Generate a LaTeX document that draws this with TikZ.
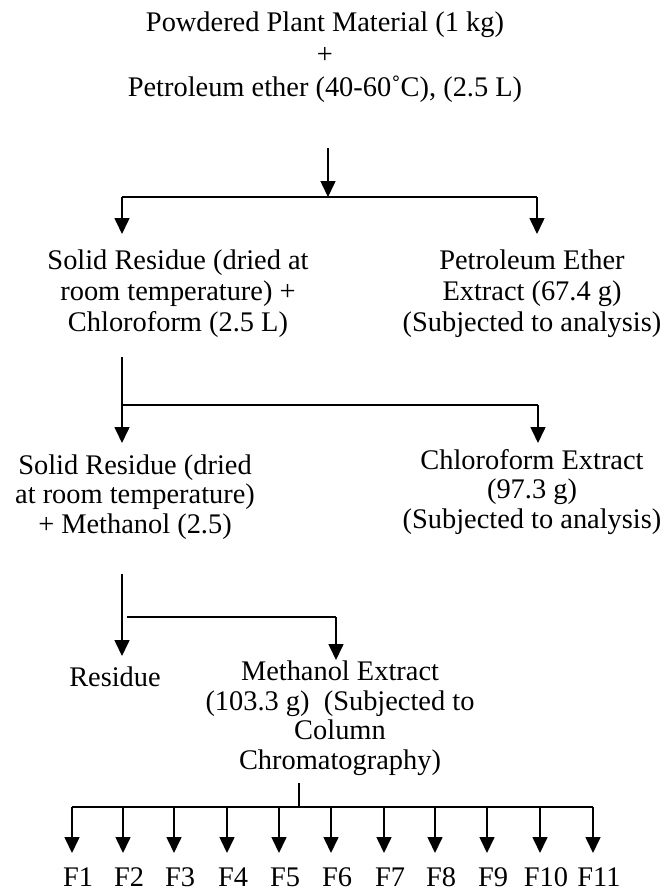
\documentclass[tikz,border=0pt]{standalone}
\usepackage{fontspec}
\setmainfont{Liberation Serif}
\usetikzlibrary{arrows.meta}
\tikzset{
  txt/.style={align=center, inner sep=0pt, font=\fontsize{28.4}{31}\selectfont},
  ln/.style={line width=1.6pt},
  arr/.style={ln, -{Triangle[width=15pt,length=16pt]}}
}
\begin{document}
\begin{tikzpicture}[x=1pt,y=-1pt]
\useasboundingbox (0,0) rectangle (662,888);
% nodes
\node[txt, font=\fontsize{28.4}{32.5}\selectfont] (top) at (325,57) {Powdered Plant Material (1 kg)\\+\\Petroleum ether (40-60˚C), (2.5 L)};
\node[txt] (l1) at (178,294) {Solid Residue (dried at\\room temperature) +\\Chloroform (2.5 L)};
\node[txt] (r1) at (532,294) {Petroleum Ether\\Extract (67.4 g)\\(Subjected to analysis)};
\node[txt, font=\fontsize{28.4}{29.5}\selectfont] (l2) at (135,497) {Solid Residue (dried\\at room temperature)\\+ Methanol (2.5)};
\node[txt, font=\fontsize{28.4}{29.5}\selectfont] (r2) at (532,492) {Chloroform Extract\\(97.3 g)\\(Subjected to analysis)};
\node[txt] (res) at (115,677) {Residue};
\node[txt, font=\fontsize{28.4}{29.5}\selectfont] (me) at (340,718) {Methanol Extract\\(103.3 g)\ \ (Subjected to\\Column\\Chromatography)};
% coordinates
\coordinate (a0) at (328,148);
\coordinate (b0) at (328,197);
\coordinate (bl) at (122,197);
\coordinate (br) at (537,197);
\coordinate (tl) at (122,234);
\coordinate (tr) at (537,234);
\coordinate (c0) at (122,357);
\coordinate (cj) at (122,405);
\coordinate (cr) at (538,405);
\coordinate (ctl) at (122,443);
\coordinate (ctr) at (538,443);
\coordinate (d0) at (122,574);
\coordinate (dtl) at (122,656);
\coordinate (dj) at (127,617);
\coordinate (dr) at (336,617);
\coordinate (dtr) at (336,660);
\coordinate (e0) at (299,783);
\coordinate (ej) at (299,807);
% connectors
\draw[arr] (a0) -- (b0);
\draw[ln] (bl) -- (br);
\draw[arr] (bl) -- (tl);
\draw[arr] (br) -- (tr);
\draw[arr] (c0) -- (ctl);
\draw[ln] (cj) -- (cr);
\draw[arr] (cr) -- (ctr);
\draw[arr] (d0) -- (dtl);
\draw[ln] (dj) -- (dr);
\draw[arr] (dr) -- (dtr);
\draw[ln] (e0) -- (ej);
\foreach \i/\x in {1/72,2/123,3/174,4/227,5/279,6/331,7/384,8/435,9/487,10/540,11/593} {
  \coordinate (f\i) at (\x,807);
  \coordinate (g\i) at (\x,853);
  \node[txt] (F\i) at (\x+6,877) {F\i};
  \draw[arr] (f\i) -- (g\i);
}
\draw[ln] (f1) -- (f11);
\end{tikzpicture}
\end{document}
